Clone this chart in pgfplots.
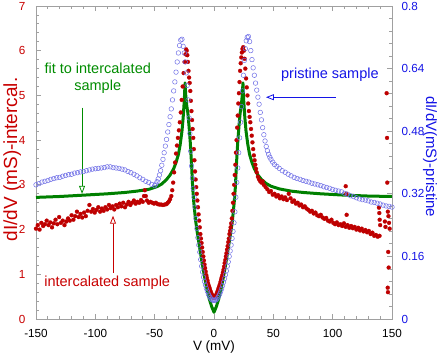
\documentclass[border=0pt]{standalone}
\usepackage{pgfplots}
\pgfplotsset{compat=1.18}
\usepackage{fontspec}
\setmainfont{Liberation Sans}
\usetikzlibrary{arrows.meta}
\definecolor{cred}{RGB}{190,0,0}
\definecolor{cgreen}{RGB}{0,128,0}
\definecolor{cblue}{RGB}{110,110,230}
\definecolor{tblue}{RGB}{20,20,230}
\definecolor{tred}{RGB}{200,0,0}
\definecolor{tgreen}{RGB}{0,140,0}
\definecolor{axgray}{RGB}{160,160,160}
\pgfplotsset{
 base/.style={scale only axis, width=356pt, height=313pt, xmin=-150, xmax=150, ymin=0,
  axis line style={axgray, line width=0.8pt}, tick style={axgray, line width=0.8pt},
  major tick length=5pt, minor tick length=3pt, tick align=inside,
  /pgf/number format/assume math mode=true,
  tick label style={font=\fontsize{11.7}{13}\selectfont},
 }
}
\begin{document}
\begin{tikzpicture}
\begin{axis}[base, ymax=7,
  xtick={-150,-100,...,150}, minor x tick num=4,
  ytick={0,1,...,7}, minor y tick num=4,
  xtick pos=both, ytick pos=left,
  yticklabel style={tred, xshift=-7pt},
  xticklabel style={yshift=-6.5pt},
  xlabel={V (mV)},
  xlabel style={font=\fontsize{13.5}{15}\selectfont, inner sep=0pt, at={(axis description cs:0.5,-0.091)}, anchor=center},
  ylabel={dI/dV (mS)-intercal.},
  ylabel style={tred, font=\fontsize{19}{21}\selectfont, at={(axis description cs:-0.067,0.51)}, anchor=center},
  clip=false]
% intercalated sample
\addplot[only marks, mark=*, mark size=2pt, mark options={draw=cred, fill=cred, line width=0.2pt}] table {
V y
-150 2.02
-148.5 2.1
-147 2.0
-145.5 2.15
-144 2.08
-142.5 2.12
-141 2.2
-139.5 2.1
-138 2.16
-136.5 2.05
-135 2.14
-133.5 2.22
-132 2.12
-130.5 2.28
-129 2.15
-127.5 2.2
-126 2.1
-124.5 2.18
-123 2.25
-121.5 2.2
-120 2.32
-118.5 2.22
-117 2.3
-115.5 2.4
-114 2.28
-112.5 2.35
-111 2.27
-109.5 2.38
-108 2.3
-106.5 2.42
-105 2.55
-103.5 2.4
-102 2.46
-100.5 2.38
-99 2.44
-97.5 2.5
-96 2.4
-94.5 2.47
-93 2.42
-91.5 2.5
-90 2.45
-88.5 2.55
-87 2.48
-85.5 2.52
-84 2.45
-82.5 2.55
-81 2.5
-79.5 2.58
-78 2.52
-76.5 2.6
-75 2.5
-73.5 2.56
-72 2.62
-70.5 2.55
-69 2.6
-67.5 2.65
-66 2.58
-64.5 2.62
-63 2.6
-61.5 2.66
-60 2.62
-59 2.75
-58.3 2.88
-57.5 2.75
-56.5 2.65
-55 2.6
-53.5 2.62
-52 2.6
-50.5 2.58
-49 2.6
-47.5 2.57
-46 2.56
-44.5 2.56
-43 2.55
-41.5 2.56
-40 2.57
-39 2.6
-38 2.63
-37 2.68
-36 2.75
-35.2 2.88
-34.4 3.05
-33.6 3.28
-32.8 3.5
-32 3.7
-31.2 3.88
-30.4 4.05
-29.6 4.22
-28.8 4.4
-28 4.62
-27.2 4.9
-26.4 5.2
-25.6 5.5
-24.8 5.75
-24 5.92
-23.5 6.03
-23 6.0
-22.5 5.9
-22 5.75
-21.5 5.55
-21 5.4
-20.5 5.28
-20 5.1
-19.5 4.88
-19 4.65
-18.5 4.45
-18 4.25
-17.5 4.05
-17 3.8
-16.5 3.55
-16 3.3
-15.5 3.12
-15 2.95
-14.5 2.8
-14 2.65
-13.5 2.5
-13 2.34
-12.5 2.2
-12 2.05
-11.5 1.9
-11 1.8
-10.5 1.7
-10 1.6
-9.5 1.5
-9 1.4
-8.5 1.31
-8 1.22
-7.5 1.14
-7 1.06
-6.5 0.98
-6 0.92
-5.5 0.86
-5 0.8
-4.5 0.75
-4 0.71
-3.5 0.67
-3 0.63
-2.5 0.59
-2 0.56
-1.5 0.53
-1 0.5
-0.5 0.48
0 0.47
0.5 0.48
1 0.5
1.5 0.52
2 0.55
2.5 0.58
3 0.62
3.5 0.66
4 0.7
4.5 0.74
5 0.78
5.5 0.83
6 0.88
6.5 0.93
7 0.98
7.5 1.04
8 1.1
8.5 1.17
9 1.25
9.5 1.32
10 1.4
10.5 1.47
11 1.55
11.5 1.63
12 1.72
12.5 1.8
13 1.9
13.5 1.97
14 2.05
14.5 2.14
15 2.25
15.5 2.42
16 2.6
16.5 2.8
17 3.0
17.5 3.22
18 3.45
18.5 3.72
19 4.0
19.5 4.28
20 4.55
20.5 4.82
21 5.05
21.5 5.3
22 5.55
22.5 5.72
23 5.85
23.5 5.96
24 6.04
24.6 6.08
25.2 6.0
25.8 5.82
26.4 5.6
27 5.38
27.6 5.18
28.2 5.0
28.8 4.82
29.4 4.65
30 4.52
30.6 4.4
31.2 4.25
31.8 4.1
32.4 3.95
33 3.8
33.6 3.66
34.2 3.55
34.8 3.45
35.4 3.36
36 3.28
37 3.18
38 3.12
39 3.08
40 3.05
41 3.08
42 3.0
43.5 2.95
45 2.9
46.5 2.84
48 2.86
49.5 2.78
51 2.8
52.5 2.74
54 2.77
55.5 2.7
57 2.74
58.5 2.68
60 2.72
61.5 2.66
63 2.8
64.5 2.7
66 2.62
67.5 2.65
69 2.58
70.5 2.6
72 2.54
73.5 2.56
75 2.5
76.5 2.52
78 2.47
79.5 2.44
81 2.4
82.5 2.42
84 2.36
85.5 2.38
87 2.32
88.5 2.3
90 2.33
91.5 2.27
93 2.24
94.5 2.26
96 2.2
97.5 2.18
99 2.22
100.5 2.15
102 2.12
103.5 2.16
105 2.1
106.5 2.12
108 2.08
109.5 2.14
111 2.06
112.5 2.1
114 2.04
115.5 2.08
117 2.03
118.5 2.06
120 2.0
121.5 2.04
123 1.98
124.5 2.02
126 1.96
127.5 1.99
129 1.94
130.5 1.97
132 1.9
133.5 1.93
135 1.86
136.5 1.88
138 1.84
139.5 1.86
111 2.97
111.5 2.8
111.8 2.33
139 2.49
139.3 2.37
139.6 2.22
140 2.1
144 2.18
144.5 2.06
145.5 5.05
145.8 4.05
146 3.05
146.5 2.4
147 2.3
147.5 2.15
148 2.02
146.8 1.5
147.2 1.15
146.4 0.7
146.6 0.6
};
% fit
\addplot[cgreen, line width=3pt, line join=round] table {
V y
-150 2.72
-130 2.74
-110 2.77
-90 2.8
-75 2.83
-65 2.86
-55 2.9
-48 2.96
-44 3.02
-40 3.12
-37 3.22
-34 3.36
-32 3.5
-30 3.68
-28.5 3.9
-27 4.2
-26 4.5
-25 4.9
-24.4 5.28
-23.8 5.0
-23 4.78
-22 4.6
-21 4.3
-20 3.95
-19 3.5
-18 2.95
-17 2.6
-15.5 2.2
-14 1.92
-12 1.58
-10 1.25
-8 0.95
-6 0.68
-4 0.45
-2 0.28
0 0.15
2 0.28
4 0.45
6 0.68
8 0.95
10 1.25
12 1.58
14 1.92
15.5 2.2
17 2.6
18 2.95
19 3.5
20 3.95
21 4.3
22 4.6
23 4.78
23.8 5.0
24.4 5.28
25 4.9
26 4.5
27 4.2
28.5 3.9
30 3.68
32 3.5
34 3.36
37 3.22
40 3.12
44 3.03
48 2.97
55 2.91
65 2.86
75 2.83
90 2.8
110 2.77
130 2.75
150 2.74
};
\node[tgreen, font=\fontsize{14.5}{17}\selectfont, align=center] at (axis cs:-98,5.39) {fit to intercalated\\sample};
\draw[tgreen, line width=0.8pt, -{Triangle[open, length=8pt, width=6pt]}] (axis cs:-111.2,4.73) -- (axis cs:-111.2,2.8);
\node[tred, font=\fontsize{14.5}{17}\selectfont] at (axis cs:-90,0.81) {intercalated sample};
\draw[tred, line width=0.8pt, -{Triangle[open, length=8pt, width=6pt]}] (axis cs:-85.1,1.03) -- (axis cs:-85.1,2.31);
\node[tblue, font=\fontsize{14.5}{17}\selectfont] at (axis cs:97.7,5.47) {pristine sample};
\draw[tblue, line width=0.8pt, -{Triangle[open, length=8pt, width=6pt]}] (axis cs:102.8,4.96) -- (axis cs:43.8,4.96);
\end{axis}
\begin{axis}[base, ymax=0.8,
  axis y line*=right, hide x axis,
  ytick={0,0.16,0.32,0.48,0.64,0.8}, yticklabels={0,0.16,0.32,0.48,0.64,0.8},
  minor y tick num=4,
  yticklabel style={tblue, xshift=6pt},
  ylabel={dI/dV(mS)-pristine},
  ylabel style={tblue, font=\fontsize{15}{17}\selectfont, at={(axis description cs:1.107,0.518)}, anchor=center, rotate=180}]
\addplot[only marks, mark=o, mark size=2.3pt, mark options={draw=cblue, line width=0.5pt}] table {
V y
-150 0.343
-147.5 0.346
-145 0.350
-142.5 0.352
-140 0.354
-137.5 0.357
-135 0.359
-132.5 0.361
-130 0.362
-127.5 0.365
-125 0.367
-122.5 0.369
-120 0.370
-117.5 0.373
-115 0.374
-112.5 0.376
-110 0.377
-107.5 0.379
-105 0.381
-102.5 0.383
-100 0.384
-97.5 0.385
-95 0.386
-92.5 0.387
-90 0.389
-87.5 0.389
-85 0.387
-82.5 0.386
-80 0.385
-77.5 0.383
-75 0.381
-72.5 0.377
-70 0.374
-67.5 0.370
-65 0.366
-62.5 0.361
-60 0.357
-57.5 0.352
-55 0.349
-52.5 0.344
-50 0.341
-49 0.345
-48 0.351
-47 0.358
-46 0.368
-45 0.379
-44 0.393
-43 0.408
-42 0.425
-41 0.442
-40 0.459
-39 0.478
-38 0.497
-37 0.517
-36 0.537
-35 0.560
-34 0.583
-33 0.606
-32 0.631
-31 0.657
-30 0.680
-29 0.699
-28 0.713
-27 0.715
-26 0.697
-25 0.680
-24.2 0.657
-23.4 0.629
-22.6 0.597
-21.8 0.560
-21 0.514
-20.3 0.474
-19.6 0.429
-18.9 0.391
-18.2 0.360
-17.5 0.334
-16.8 0.311
-16 0.286
-15.2 0.257
-14.4 0.231
-13.6 0.208
-12.8 0.189
-12 0.171
-11.2 0.152
-10.4 0.135
-9.6 0.120
-8.8 0.107
-8 0.096
-7.2 0.087
-6.4 0.078
-5.6 0.071
-4.8 0.064
-4 0.059
-3.2 0.055
-2.4 0.051
-1.6 0.049
-0.8 0.048
0 0.048
0.8 0.048
1.6 0.049
2.4 0.051
3.2 0.055
4 0.059
4.8 0.064
5.6 0.070
6.4 0.077
7.2 0.085
8 0.094
8.8 0.103
9.6 0.113
10.4 0.123
11.2 0.135
12 0.146
12.8 0.160
13.6 0.174
14.4 0.189
15.2 0.206
16 0.224
16.8 0.246
17.6 0.274
18.4 0.311
19.2 0.349
20 0.386
20.8 0.425
21.6 0.463
22.4 0.503
23.2 0.543
24 0.583
24.8 0.623
25.6 0.661
26.4 0.691
27.2 0.711
28 0.720
29 0.722
30 0.709
31 0.686
32 0.663
33 0.642
34 0.623
35 0.603
36 0.585
37 0.567
38 0.549
39 0.528
40 0.509
41 0.489
42 0.471
43 0.455
44 0.441
45 0.430
46 0.421
47 0.414
48 0.408
49.5 0.401
51 0.395
53 0.390
55 0.385
57.5 0.379
60 0.375
62.5 0.370
65 0.366
67.5 0.362
70 0.359
72.5 0.357
75 0.354
77.5 0.352
80 0.350
82.5 0.347
85 0.345
87.5 0.343
90 0.341
92.5 0.338
95 0.336
97.5 0.334
100 0.331
102.5 0.329
105 0.327
107.5 0.325
110 0.321
112.5 0.319
115 0.315
117.5 0.313
120 0.310
122.5 0.307
125 0.305
127.5 0.304
130 0.302
132.5 0.299
135 0.298
137.5 0.296
140 0.294
142.5 0.291
145 0.289
147.5 0.288
150 0.286
};
\end{axis}
\pgfresetboundingbox
\useasboundingbox (-36pt,-35pt) rectangle (407pt,319pt);
\end{tikzpicture}
\end{document}
